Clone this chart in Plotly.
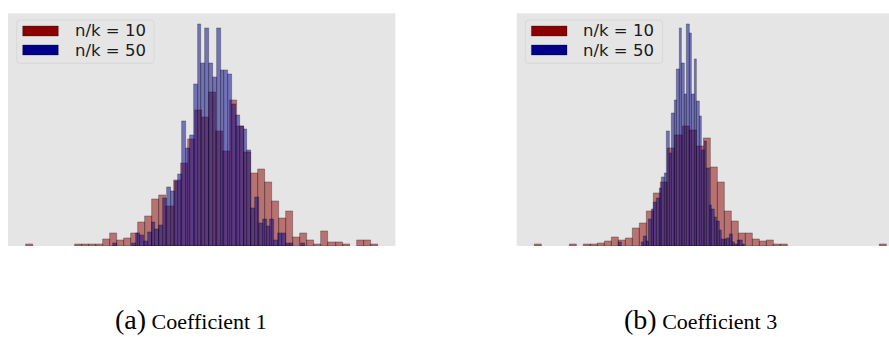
import plotly.graph_objects as go

# ---- histogram data (density, 50 bins per series) ----
# Coefficient 1
coef1_nk10 = [0.013, 0, 0, 0, 0, 0, 0, 0.013, 0.013, 0.013,
              0.013, 0.052, 0.098, 0.042, 0.054, 0.096, 0.175, 0.222, 0.348, 0.377,
              0.296, 0.493, 0.616, 0.799, 1.010, 0.956, 1.146, 0.858, 0.703, 1.087,
              0.895, 0.697, 0.544, 0.575, 0.473, 0.333, 0.205, 0.261, 0.067, 0.096,
              0.042, 0.013, 0.111, 0.024, 0.024, 0.013, 0, 0.042, 0.042, 0.013]
coef1_nk50 = [0.020, 0, 0, 0, 0, 0.020, 0.098, 0.079, 0.037, 0.104,
              0.180, 0.128, 0.152, 0.355, 0.436, 0.407, 0.481, 0.537, 0.929, 0.725,
              0.825, 1.208, 1.652, 1.361, 1.622, 1.361, 1.257, 1.622, 1.311, 1.309,
              1.282, 1.055, 0.976, 0.895, 0.871, 0.715, 0.279, 0.360, 0.172, 0.197,
              0.148, 0.200, 0.044, 0.098, 0.098, 0.020, 0.020, 0, 0, 0.020]
# Coefficient 3
coef3_nk10 = [0.019, 0, 0, 0, 0, 0.019, 0, 0.019, 0.019, 0.031,
              0.056, 0.104, 0.075, 0.091, 0.229, 0.282, 0.439, 0.670, 0.802, 1.232,
              1.397, 1.504, 1.454, 1.253, 1.360, 0.990, 0.802, 0.439, 0.307, 0.159,
              0.159, 0.088, 0.056, 0.071, 0.019, 0.019, 0, 0, 0, 0,
              0, 0, 0, 0, 0, 0, 0, 0, 0, 0.019]
coef3_nk50 = [0.041, 0, 0, 0, 0, 0, 0, 0, 0, 0.041,
              0.117, 0.063, 0.338, 0.460, 0.551, 0.605, 0.731, 0.868, 0.919, 1.441,
              1.169, 1.667, 1.837, 2.222, 2.748, 2.306, 1.912, 2.791, 2.673, 1.912,
              2.347, 1.817, 1.629, 1.211, 1.316, 0.981, 0.509, 0.459, 0.367, 0.313,
              0.201, 0.083, 0.083, 0.091, 0.145, 0.041, 0.020, 0.070, 0.070, 0.020]

# bin layout: (first edge, bin width)
coef1_nk10_bins = (-1.797, 0.0705)
coef1_nk50_bins = (-0.921, 0.0384)
coef3_nk10_bins = (-1.557, 0.0705)
coef3_nk50_bins = (-0.710, 0.0252)

series_labels = ["n/k = 10", "n/k = 50"]
captions = [("(a)", "Coefficient 1"), ("(b)", "Coefficient 3")]

# ---- styling / page geometry (pixels) ----
W, H = 889, 337
AX_W = 387.4
AX_TOP, AX_BOTTOM = 13.3, 246.0
AX_LEFT = [8.0, 516.7]
RED, BLUE = "#8b0000", "#00008b"
RED_FILL, BLUE_FILL = "rgba(139,0,0,0.5)", "rgba(0,0,139,0.5)"
EDGE = "rgba(0,0,0,0.4)"
BG = "#e5e5e5"


def px_x(px):
    return px / W


def px_y(py):
    return 1 - py / H


def centers(bins, n):
    lo, w = bins
    return [lo + w * (i + 0.5) for i in range(n)]


def nonempty(vals):
    # empty bins are left undrawn so no outline appears on the baseline
    return [v if v > 0 else None for v in vals]


fig = go.Figure()

panels = [
    (coef1_nk10, coef1_nk10_bins, coef1_nk50, coef1_nk50_bins),
    (coef3_nk10, coef3_nk10_bins, coef3_nk50, coef3_nk50_bins),
]

shapes = []
annotations = []

for p, (red, rbins, blue, bbins) in enumerate(panels):
    xa = "x" if p == 0 else "x2"
    ya = "y" if p == 0 else "y2"
    fig.add_trace(go.Bar(x=centers(rbins, len(red)), y=nonempty(red), width=rbins[1],
                         marker=dict(color=RED_FILL, line=dict(color=EDGE, width=0.7)),
                         xaxis=xa, yaxis=ya, showlegend=False, name=series_labels[0]))
    fig.add_trace(go.Bar(x=centers(bbins, len(blue)), y=nonempty(blue), width=bbins[1],
                         marker=dict(color=BLUE_FILL, line=dict(color=EDGE, width=0.7)),
                         xaxis=xa, yaxis=ya, showlegend=False, name=series_labels[1]))

    # autoscaled limits with 5% horizontal margin, 5% headroom on top
    lo = min(rbins[0], bbins[0])
    hi = max(rbins[0] + rbins[1] * len(red), bbins[0] + bbins[1] * len(blue))
    span = hi - lo
    x0, x1 = lo - 0.05 * span, hi + 0.05 * span
    left = AX_LEFT[p]
    right = left + AX_W
    if right > W:  # panel runs past the page edge: show only the visible part
        x1 = x0 + (x1 - x0) * (W - left) / AX_W
        right = W
    ymax = 1.05 * max(max(red), max(blue))

    axis_common = dict(showgrid=False, zeroline=False, showticklabels=False,
                       ticks="", showline=False, fixedrange=True)
    fig.layout["xaxis" if p == 0 else "xaxis2"] = dict(
        domain=[px_x(left), px_x(right)], range=[x0, x1], anchor=ya, **axis_common)
    fig.layout["yaxis" if p == 0 else "yaxis2"] = dict(
        domain=[px_y(AX_BOTTOM), px_y(AX_TOP)], range=[0, ymax], anchor=xa, **axis_common)

    # legend frame with rounded corners
    bx0, bx1, by0, by1, r = left + 8.7, left + 146.0, 20.0, 63.3, 3.0
    path = (f"M{px_x(bx0 + r)},{px_y(by0)} L{px_x(bx1 - r)},{px_y(by0)} "
            f"Q{px_x(bx1)},{px_y(by0)} {px_x(bx1)},{px_y(by0 + r)} "
            f"L{px_x(bx1)},{px_y(by1 - r)} Q{px_x(bx1)},{px_y(by1)} {px_x(bx1 - r)},{px_y(by1)} "
            f"L{px_x(bx0 + r)},{px_y(by1)} Q{px_x(bx0)},{px_y(by1)} {px_x(bx0)},{px_y(by1 - r)} "
            f"L{px_x(bx0)},{px_y(by0 + r)} Q{px_x(bx0)},{px_y(by0)} {px_x(bx0 + r)},{px_y(by0)} Z")
    shapes.append(dict(type="path", xref="paper", yref="paper", path=path,
                       fillcolor=BG, line=dict(color="#d8d8d8", width=1)))
    for j, (col, label) in enumerate(zip([RED, BLUE], series_labels)):
        ty = 31.0 + 19.0 * j
        shapes.append(dict(type="rect", xref="paper", yref="paper",
                           x0=px_x(left + 14.7), x1=px_x(left + 50.3),
                           y0=px_y(ty - 5), y1=px_y(ty + 5),
                           fillcolor=col, line=dict(color="rgba(0,0,0,0.4)", width=0.7)))
        annotations.append(dict(xref="paper", yref="paper", x=px_x(left + 64.7), y=px_y(ty),
                                xanchor="left", yanchor="middle", showarrow=False,
                                text=label,
                                font=dict(family="DejaVu Sans", size=16.5, color="#1a1a1a")))

# sub-figure captions
caption_left = [113.3, 622.0]
for (tag, title), cx in zip(captions, caption_left):
    annotations.append(dict(xref="paper", yref="paper", x=px_x(cx), y=px_y(337),
                            xanchor="left", yanchor="bottom", showarrow=False,
                            text=f"<span style='font-size:28px'>{tag}</span> {title}",
                            font=dict(family="Liberation Serif", size=22, color="black")))

fig.update_layout(width=W, height=H, margin=dict(l=0, r=0, t=0, b=0),
                  paper_bgcolor="white", plot_bgcolor=BG, barmode="overlay",
                  bargap=0, showlegend=False, shapes=shapes, annotations=annotations)

fig.write_html("out.html")
